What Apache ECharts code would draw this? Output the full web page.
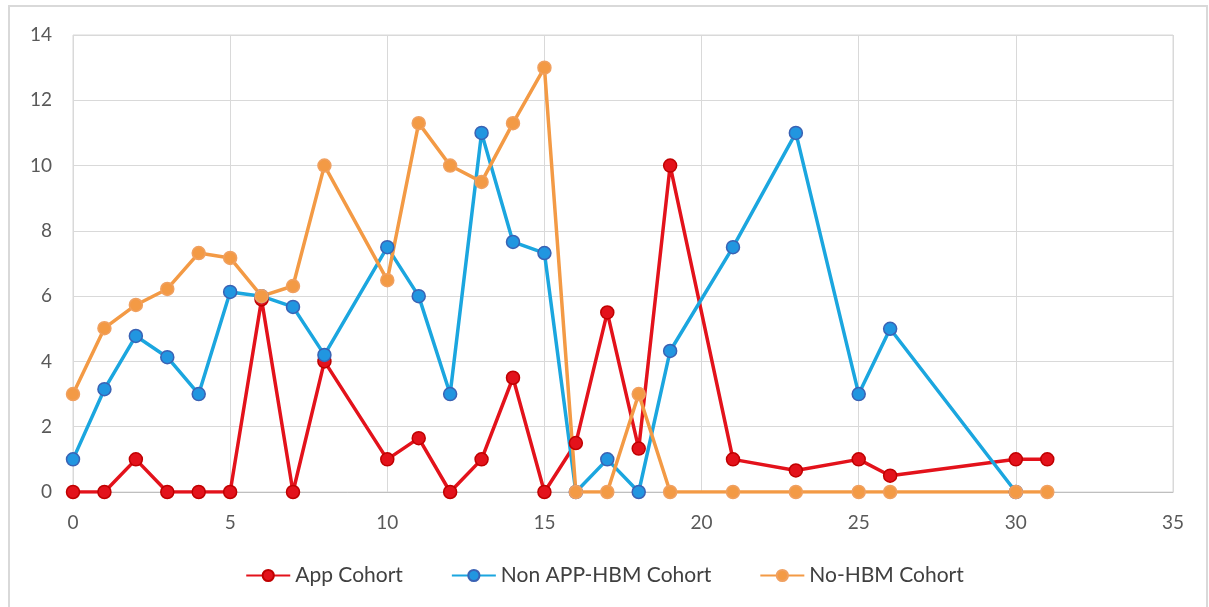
<!DOCTYPE html>
<html>
<head>
<meta charset="utf-8">
<script src="https://cdn.jsdelivr.net/npm/echarts@6/dist/echarts.min.js"></script>
<style>
  html, body { margin: 0; padding: 0; background: #ffffff; }
  #chart { width: 1209px; height: 607px; }
</style>
</head>
<body>
<div id="chart"></div>
<script>
// Series names
const seriesNames = ['App Cohort', 'Non APP-HBM Cohort', 'No-HBM Cohort'];

// App Cohort
const appX = [0, 1, 2, 3, 4, 5, 6, 7, 8, 10, 11, 12, 13, 14, 15, 16, 17, 18, 19, 21, 23, 25, 26, 30, 31];
const appY = [0, 0, 1, 0, 0, 0, 5.9, 0, 4, 1, 1.65, 0, 1, 3.5, 0, 1.5, 5.5, 1.33, 10, 1, 0.66, 1, 0.5, 1, 1];

// Non APP-HBM Cohort
const nonAppX = [0, 1, 2, 3, 4, 5, 6, 7, 8, 10, 11, 12, 13, 14, 15, 16, 17, 18, 19, 21, 23, 25, 26, 30];
const nonAppY = [1, 3.15, 4.78, 4.13, 3, 6.13, 6, 5.67, 4.2, 7.5, 6, 3, 11, 7.66, 7.32, 0, 1, 0, 4.32, 7.5, 11, 3, 5, 0];

// No-HBM Cohort
const noHbmX = [0, 1, 2, 3, 4, 5, 6, 7, 8, 10, 11, 12, 13, 14, 15, 16, 17, 18, 19, 21, 23, 25, 26, 30, 31];
const noHbmY = [3, 5.02, 5.73, 6.22, 7.32, 7.17, 6, 6.31, 10, 6.49, 11.3, 10, 9.5, 11.3, 13, 0, 0, 3, 0, 0, 0, 0, 0, 0, 0];

// Axis ticks
const xTicks = [0, 5, 10, 15, 20, 25, 30, 35];
const yTicks = [0, 2, 4, 6, 8, 10, 12, 14];

const pairs = (xs, ys) => xs.map((x, i) => [x, ys[i]]);

const font = "Lato, 'Noto Sans', sans-serif";

function lineSeries(name, data, lineColor, fill, border) {
  return {
    name: name,
    type: 'line',
    data: data,
    symbol: 'circle',
    symbolSize: 13,
    lineStyle: { color: lineColor, width: 3.5 },
    itemStyle: { color: fill, borderColor: border, borderWidth: 1.5 },
    emphasis: { disabled: true },
    animation: false
  };
}

const chart = echarts.init(document.getElementById('chart'), null, { renderer: 'canvas' });

chart.setOption({
  backgroundColor: '#ffffff',
  animation: false,
  graphic: [{
    type: 'rect',
    shape: { x: 9, y: 6, width: 1198, height: 612 },
    style: { fill: 'none', stroke: '#d9d9d9', lineWidth: 2 },
    silent: true,
    z: -10
  }],
  grid: {
    left: 73, right: 36, top: 35, bottom: 115,
    show: true, borderColor: '#d9d9d9', borderWidth: 1
  },
  legend: {
    data: seriesNames,
    bottom: 16,
    left: 'center',
    itemWidth: 44,
    itemHeight: 14,
    itemGap: 48,
    textStyle: { color: '#404040', fontSize: 21, fontFamily: font }
  },
  xAxis: {
    type: 'value',
    min: xTicks[0],
    max: xTicks[xTicks.length - 1],
    interval: xTicks[1] - xTicks[0],
    axisLine: { show: true, lineStyle: { color: '#bfbfbf', width: 1 } },
    axisTick: { show: false },
    splitLine: { show: true, lineStyle: { color: '#d9d9d9', width: 1 } },
    axisLabel: { color: '#595959', fontSize: 19, fontFamily: font, margin: 21 }
  },
  yAxis: {
    type: 'value',
    min: yTicks[0],
    max: yTicks[yTicks.length - 1],
    interval: yTicks[1] - yTicks[0],
    axisLine: { show: false },
    axisTick: { show: false },
    splitLine: { show: true, lineStyle: { color: '#d9d9d9', width: 1 } },
    axisLabel: { color: '#595959', fontSize: 19, fontFamily: font, margin: 21 }
  },
  series: [
    lineSeries(seriesNames[0], pairs(appX, appY), '#e3121b', '#e3121b', '#c00000'),
    lineSeries(seriesNames[1], pairs(nonAppX, nonAppY), '#1ba6df', '#2196e0', '#3a62b4'),
    lineSeries(seriesNames[2], pairs(noHbmX, noHbmY), '#f39a45', '#f39a45', '#f0a060')
  ]
});
</script>
</body>
</html>
